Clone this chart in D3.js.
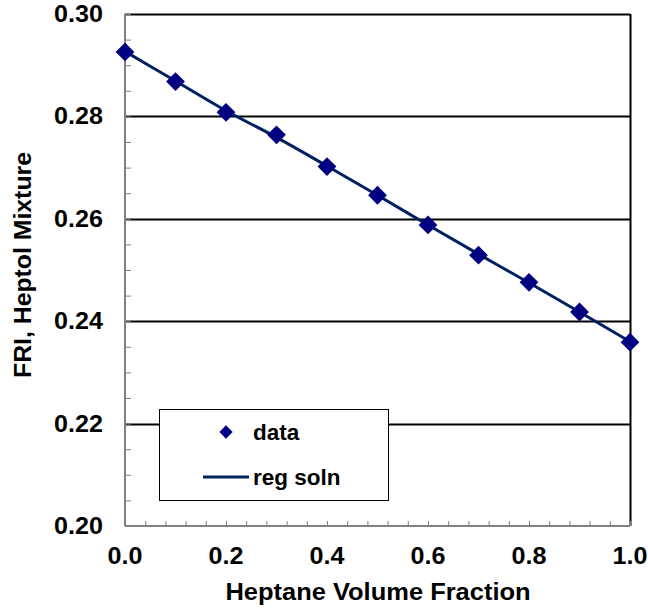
<!DOCTYPE html>
<html>
<head>
<meta charset="utf-8">
<script src="https://cdn.jsdelivr.net/npm/d3@7"></script>
<style>
html,body{margin:0;padding:0;background:#fff;}
svg{display:block;}
text{font-family:"Liberation Sans",Arial,sans-serif;font-weight:bold;fill:#000;}
</style>
</head>
<body>
<svg id="chart" width="648" height="609"></svg>
<script>
// Data
const fractions = [0.0, 0.1, 0.2, 0.3, 0.4, 0.5, 0.6, 0.7, 0.8, 0.9, 1.0];
const friData   = [0.2926, 0.2868, 0.2808, 0.2764, 0.2702, 0.2646, 0.2588, 0.2529, 0.2476, 0.2418, 0.2359];
const regSoln   = [0.2927, 0.2869, 0.2811, 0.2759, 0.2703, 0.2646, 0.2588, 0.2531, 0.2475, 0.2418, 0.2360];
const xTicks = [0.0, 0.2, 0.4, 0.6, 0.8, 1.0];
const yTicks = [0.20, 0.22, 0.24, 0.26, 0.28, 0.30];
const legendLabels = ["data", "reg soln"];

const svg = d3.select("#chart");
const L = 125, R = 630, T = 14, B = 526;
const x = d3.scaleLinear().domain([0, 1]).range([L, R]);
const y = d3.scaleLinear().domain([0.20, 0.30]).range([B, T]);
const navy = "#000080", lineCol = "#002060";

// gridlines
svg.append("g").selectAll("line").data(yTicks.filter(d => d > 0.2))
  .join("line")
  .attr("x1", L).attr("x2", R)
  .attr("y1", d => Math.round(y(d)) + 0.5).attr("y2", d => Math.round(y(d)) + 0.5)
  .attr("stroke", "#000").attr("stroke-width", 2);

// right border
svg.append("line").attr("x1", R + 0.5).attr("x2", R + 0.5).attr("y1", T).attr("y2", B)
  .attr("stroke", "#000").attr("stroke-width", 2);

// axes (gray) with inward ticks
const xAxis = d3.axisBottom(x).tickValues(d3.range(0, 26).map(i => i * 0.04))
  .tickSize(-5).tickFormat("");
const gx = svg.append("g").attr("transform", `translate(0,${B})`).call(xAxis);
const yAxis = d3.axisLeft(y).tickValues(d3.range(0, 21).map(i => 0.20 + i * 0.005))
  .tickSize(-6).tickFormat("");
const gy = svg.append("g").attr("transform", `translate(${L},0)`).call(yAxis);
[gx, gy].forEach(g => {
  g.select(".domain").attr("stroke", "#808080").attr("stroke-width", 2);
  g.selectAll(".tick line").attr("stroke", "#808080").attr("stroke-width", 1);
});
gx.select(".domain").attr("d", `M${L},0H${R}`);
gy.select(".domain").attr("d", `M0,${B}V${T}`);

// tick labels
svg.append("g").selectAll("text").data(xTicks).join("text")
  .attr("transform", d => `translate(${x(d)},564) scale(1.07,1)`)
  .attr("text-anchor", "middle").attr("font-size", 23.5)
  .text(d => d.toFixed(1));
svg.append("g").selectAll("text").data(yTicks).join("text")
  .attr("transform", d => `translate(103,${y(d) + 8}) scale(1.07,1)`)
  .attr("text-anchor", "end").attr("font-size", 23.5)
  .text(d => d.toFixed(2));

// axis titles
svg.append("text").attr("transform", `translate(${(L + R) / 2 + 0.5},600) scale(1.04,1)`)
  .attr("text-anchor", "middle").attr("font-size", 24.5)
  .text("Heptane Volume Fraction");
svg.append("text").attr("transform", "translate(31,265) rotate(-90)")
  .attr("text-anchor", "middle").attr("font-size", 24.8)
  .text("FRI, Heptol Mixture");

// regression line
const line = d3.line().x((d, i) => x(fractions[i])).y(d => y(d)).curve(d3.curveMonotoneX);
svg.append("path").datum(regSoln).attr("d", line)
  .attr("fill", "none").attr("stroke", lineCol).attr("stroke-width", 3);

// diamonds
const diamond = d3.symbol().type(d3.symbolDiamond2).size(225);
svg.append("g").selectAll("path").data(friData).join("path")
  .attr("d", diamond)
  .attr("transform", (d, i) => `translate(${x(fractions[i])},${y(d)})`)
  .attr("fill", navy);

// legend
const lg = svg.append("g");
lg.append("rect").attr("x", 159.5).attr("y", 409.5).attr("width", 229).attr("height", 91)
  .attr("fill", "#fff").attr("stroke", "#000").attr("stroke-width", 1);
lg.append("path").attr("d", d3.symbol().type(d3.symbolDiamond2).size(112))
  .attr("transform", "translate(226,432)").attr("fill", navy);
lg.append("line").attr("x1", 203).attr("x2", 249).attr("y1", 477).attr("y2", 477)
  .attr("stroke", lineCol).attr("stroke-width", 3);
lg.append("text").attr("x", 253).attr("y", 440).attr("font-size", 22.5).text(legendLabels[0]);
lg.append("text").attr("x", 253).attr("y", 485).attr("font-size", 22.5).text(legendLabels[1]);
</script>
</body>
</html>
